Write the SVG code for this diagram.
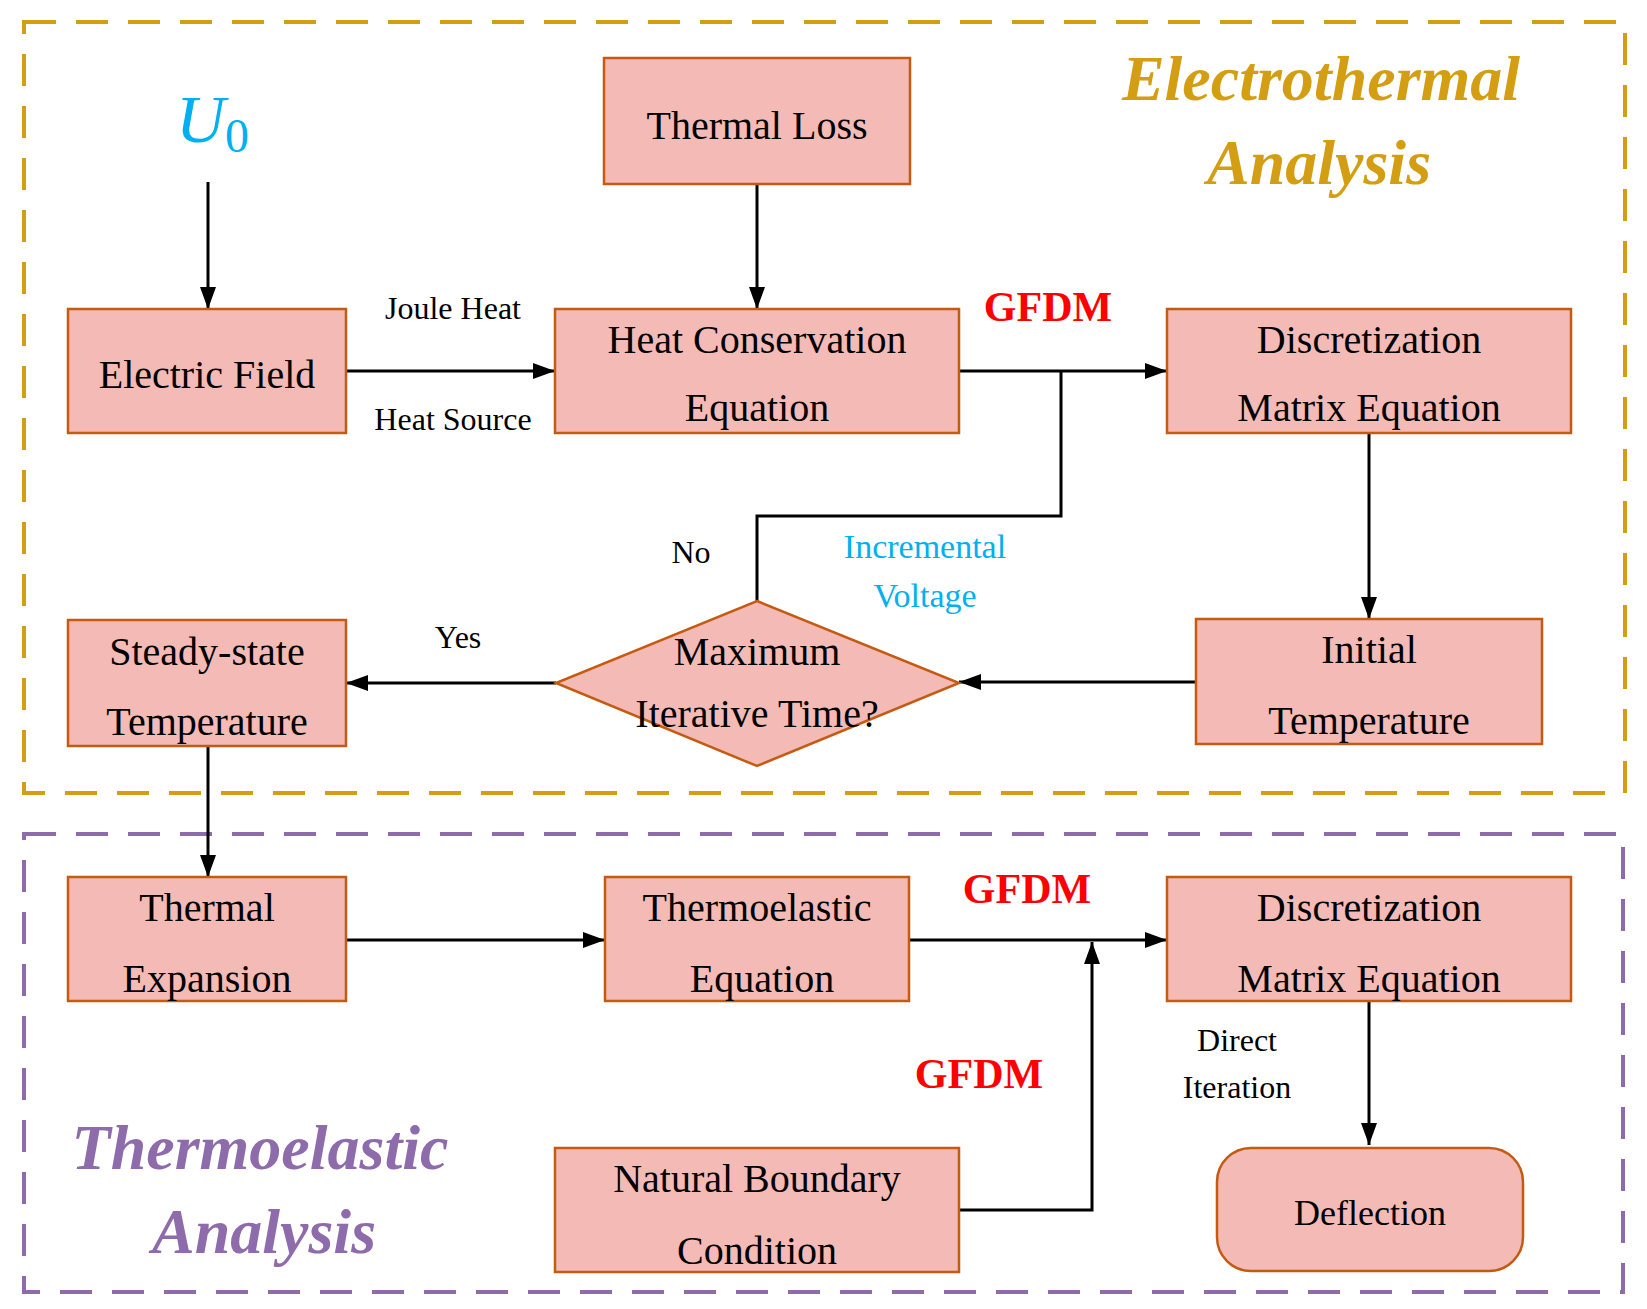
<svg xmlns="http://www.w3.org/2000/svg" width="1647" height="1309" viewBox="0 0 1647 1309">
<defs>
<marker id="ar" viewBox="0 0 10 10" refX="10" refY="5" markerWidth="6" markerHeight="6" orient="auto" markerUnits="userSpaceOnUse" style="overflow:visible"><path d="M0,0 L10,5 L0,10 z" fill="#000" transform="scale(2.2) translate(-5.4,-2.7)"/></marker>
<style>
.n{fill:#f4bab5;stroke:#c55a11;stroke-width:2.5}
.t{font-family:"Liberation Serif",serif;font-size:40px;fill:#000;text-anchor:middle}
.l{font-family:"Liberation Serif",serif;font-size:32px;fill:#000;text-anchor:middle}
.g{font-family:"Liberation Serif",serif;font-size:42px;font-weight:bold;fill:#ff0000;text-anchor:middle}
.c{fill:none;stroke:#000;stroke-width:3}
.ca{fill:none;stroke:#000;stroke-width:3;marker-end:url(#ah)}
</style>
<marker id="ah" viewBox="0 0 22 16" refX="22" refY="8" markerWidth="22" markerHeight="16" orient="auto" markerUnits="userSpaceOnUse"><path d="M0,0 L22,8 L0,16 z" fill="#000"/></marker>
</defs>
<rect width="1647" height="1309" fill="#fff"/>
<g id="regions">
<rect x="24" y="22" width="1601" height="771" fill="none" stroke="#d49e12" stroke-width="4" stroke-dasharray="32,20"/>
<rect x="24" y="834" width="1599" height="458" fill="none" stroke="#8e6bab" stroke-width="4" stroke-dasharray="32,20"/>
<text x="1321" y="100" font-family="Liberation Serif,serif" font-size="64" font-weight="bold" font-style="italic" fill="#d49e12" text-anchor="middle">Electrothermal</text>
<text x="1319" y="184" font-family="Liberation Serif,serif" font-size="64" font-weight="bold" font-style="italic" fill="#d49e12" text-anchor="middle">Analysis</text>
<text x="260" y="1169" font-family="Liberation Serif,serif" font-size="64" font-weight="bold" font-style="italic" fill="#8e6bab" text-anchor="middle">Thermoelastic</text>
<text x="264" y="1253" font-family="Liberation Serif,serif" font-size="64" font-weight="bold" font-style="italic" fill="#8e6bab" text-anchor="middle">Analysis</text>
</g>
<g id="u0"><text x="176" y="142" font-family="Liberation Serif,serif" font-size="68" font-style="italic" fill="#00b0f0">U<tspan font-style="normal" font-size="48" dy="10">0</tspan></text></g>
<g id="connectors">
<path class="ca" d="M208,182 V309"/>
<path class="ca" d="M757,184 V309"/>
<path class="ca" d="M346,371 H555"/>
<path class="ca" d="M959,371 H1167"/>
<path class="c" d="M757,601 V516 H1061 V371"/>
<path class="ca" d="M1369,433 V619"/>
<path class="ca" d="M1196,682 H959"/>
<path class="ca" d="M556,683 H346"/>
<path class="ca" d="M208,746 V877"/>
<path class="ca" d="M346,940 H605"/>
<path class="ca" d="M909,940 H1167"/>
<path class="ca" d="M959,1210 H1092 V942"/>
<path class="ca" d="M1369,1001 V1145"/>
</g>
<g id="labels">
<text class="l" x="453" y="319">Joule Heat</text>
<text class="l" x="453" y="430">Heat Source</text>
<text class="g" x="1048" y="321">GFDM</text>
<text class="l" x="925" y="558" fill="#00b0f0" style="fill:#00b0f0;font-size:34px">Incremental</text>
<text class="l" x="925" y="607" style="fill:#00b0f0;font-size:34px">Voltage</text>
<text class="l" x="691" y="563">No</text>
<text class="l" x="458" y="648">Yes</text>
<text class="g" x="1027" y="903">GFDM</text>
<text class="g" x="979" y="1088">GFDM</text>
<text class="l" x="1237" y="1051">Direct</text>
<text class="l" x="1237" y="1098">Iteration</text>
</g>
<g id="thermal-loss"><rect class="n" x="604" y="58" width="306" height="126"/><text class="t" x="757" y="139">Thermal Loss</text></g>
<g id="electric-field"><rect class="n" x="68" y="309" width="278" height="124"/><text class="t" x="207" y="388">Electric Field</text></g>
<g id="heat-conservation"><rect class="n" x="555" y="309" width="404" height="124"/><text class="t" x="757" y="353">Heat Conservation</text><text class="t" x="757" y="421">Equation</text></g>
<g id="discretization-1"><rect class="n" x="1167" y="309" width="404" height="124"/><text class="t" x="1369" y="353">Discretization</text><text class="t" x="1369" y="421">Matrix Equation</text></g>
<g id="initial-temperature"><rect class="n" x="1196" y="619" width="346" height="125"/><text class="t" x="1369" y="663">Initial</text><text class="t" x="1369" y="734">Temperature</text></g>
<g id="max-iter"><polygon class="n" points="757,601 959,683 757,766 556,683"/><text class="t" x="757" y="665">Maximum</text><text class="t" x="757" y="727">Iterative Time?</text></g>
<g id="steady-state"><rect class="n" x="68" y="620" width="278" height="126"/><text class="t" x="207" y="665">Steady-state</text><text class="t" x="207" y="735">Temperature</text></g>
<g id="thermal-expansion"><rect class="n" x="68" y="877" width="278" height="124"/><text class="t" x="207" y="921">Thermal</text><text class="t" x="207" y="992">Expansion</text></g>
<g id="thermoelastic"><rect class="n" x="605" y="877" width="304" height="124"/><text class="t" x="757" y="921">Thermoelastic</text><text class="t" x="762" y="992">Equation</text></g>
<g id="discretization-2"><rect class="n" x="1167" y="877" width="404" height="124"/><text class="t" x="1369" y="921">Discretization</text><text class="t" x="1369" y="992">Matrix Equation</text></g>
<g id="natural-boundary"><rect class="n" x="555" y="1148" width="404" height="124"/><text class="t" x="757" y="1192">Natural Boundary</text><text class="t" x="757" y="1264">Condition</text></g>
<g id="deflection"><rect class="n" x="1217" y="1148" width="306" height="123" rx="34"/><text class="t" x="1370" y="1225" style="font-size:36px">Deflection</text></g>
</svg>
